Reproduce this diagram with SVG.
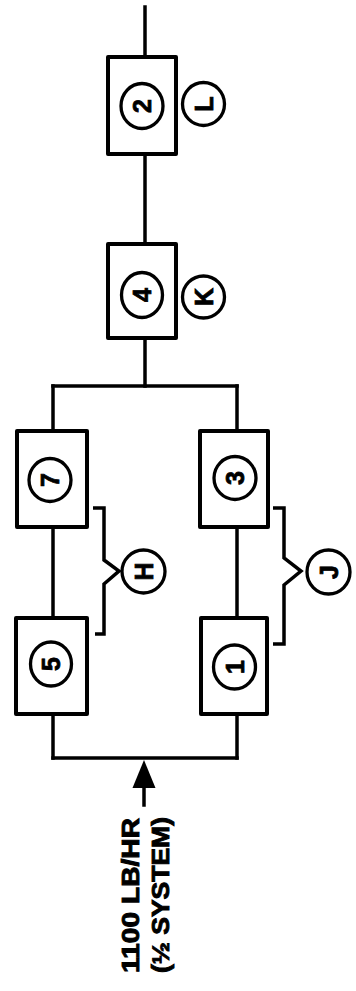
<svg xmlns="http://www.w3.org/2000/svg" width="356" height="991" viewBox="0 0 356 991">
<style>
.box{fill:#fff;stroke:#000;stroke-width:4;stroke-linejoin:round}
.ln{fill:none;stroke:#000;stroke-width:3.5;stroke-linecap:square}
.br{fill:none;stroke:#000;stroke-width:3.5;stroke-linejoin:miter}
.cir{fill:#fff;stroke:#000;stroke-width:3.3}
.lab{font-family:"Liberation Sans",Arial,sans-serif;font-weight:bold;font-size:25px;text-anchor:middle;stroke:#000;stroke-width:0.8}
.cap{font-family:"Liberation Sans",Arial,sans-serif;font-weight:bold;font-size:24px;stroke:#000;stroke-width:0.9}
</style>
<rect width="356" height="991" fill="#fff"/>
<g id="connectors">
<line class="ln" x1="145" y1="7" x2="145" y2="57"/>
<line class="ln" x1="145" y1="154" x2="145" y2="244"/>
<line class="ln" x1="145" y1="338" x2="145" y2="386"/>
<line class="ln" x1="53" y1="386" x2="237" y2="386"/>
<line class="ln" x1="53" y1="386" x2="53" y2="431"/>
<line class="ln" x1="237" y1="386" x2="237" y2="431"/>
<line class="ln" x1="53" y1="527" x2="53" y2="618"/>
<line class="ln" x1="237" y1="527" x2="237" y2="618"/>
<line class="ln" x1="53" y1="714" x2="53" y2="758"/>
<line class="ln" x1="237" y1="714" x2="237" y2="758"/>
<line class="ln" x1="53" y1="758" x2="237" y2="758"/>
<line class="ln" x1="144" y1="785" x2="144" y2="805"/>
<polygon points="144,760 132.5,788 155.5,788" fill="#000"/>
</g>
<g id="node2">
<rect class="box" x="108" y="57" width="68" height="97"/>
<ellipse class="cir" cx="142" cy="106" rx="21" ry="22.5"/>
<text class="lab" transform="translate(142,106) rotate(-90)" dy="0.36em">2</text>
</g>
<g id="labelL">
<ellipse class="cir" cx="203.5" cy="104" rx="21" ry="21.5"/>
<text class="lab" transform="translate(203.5,104) rotate(-90)" dy="0.36em">L</text>
</g>
<g id="node4">
<rect class="box" x="108" y="244" width="68" height="94"/>
<ellipse class="cir" cx="142" cy="295" rx="20.5" ry="22.5"/>
<text class="lab" transform="translate(142,295) rotate(-90)" dy="0.36em">4</text>
</g>
<g id="labelK">
<ellipse class="cir" cx="203.5" cy="297" rx="21" ry="21"/>
<text class="lab" transform="translate(203.5,297) rotate(-90)" dy="0.36em">K</text>
</g>
<g id="node7">
<rect class="box" x="17" y="431" width="70" height="96"/>
<ellipse class="cir" cx="50" cy="480" rx="21" ry="21.5"/>
<text class="lab" transform="translate(50,480) rotate(-90)" dy="0.36em">7</text>
</g>
<g id="node3">
<rect class="box" x="200" y="431" width="68" height="96"/>
<ellipse class="cir" cx="235" cy="478" rx="21" ry="21.5"/>
<text class="lab" transform="translate(235,478) rotate(-90)" dy="0.36em">3</text>
</g>
<g id="node5">
<rect class="box" x="16" y="618" width="71" height="96"/>
<ellipse class="cir" cx="51" cy="664" rx="20.5" ry="22"/>
<text class="lab" transform="translate(51,664) rotate(-90)" dy="0.36em">5</text>
</g>
<g id="node1">
<rect class="box" x="201" y="618" width="66" height="96"/>
<ellipse class="cir" cx="234.5" cy="667" rx="21" ry="22"/>
<text class="lab" transform="translate(234.5,667) rotate(-90)" dy="0.36em">1</text>
</g>
<g id="braceH">
<path class="br" d="M93,508 L104,508 L104,560 L119,571 L104,584 L104,634 L95,634"/>
<ellipse class="cir" cx="143.5" cy="571.5" rx="21.5" ry="21.5"/>
<text class="lab" transform="translate(143.5,571.5) rotate(-90)" dy="0.36em">H</text>
</g>
<g id="braceJ">
<path class="br" d="M273,508 L284,508 L284,558 L301,571 L284,585 L284,644 L273,644"/>
<ellipse class="cir" cx="328.5" cy="572" rx="21.5" ry="22"/>
<text class="lab" transform="translate(328.5,572) rotate(-90)" dy="0.36em">J</text>
</g>
<g id="inputLabel">
<text class="cap" transform="translate(139,973) rotate(-90)" textLength="155" lengthAdjust="spacingAndGlyphs">1100 LB/HR</text>
<text class="cap" transform="translate(169,973) rotate(-90)" textLength="156" lengthAdjust="spacingAndGlyphs">(½ SYSTEM)</text>
</g>
</svg>
